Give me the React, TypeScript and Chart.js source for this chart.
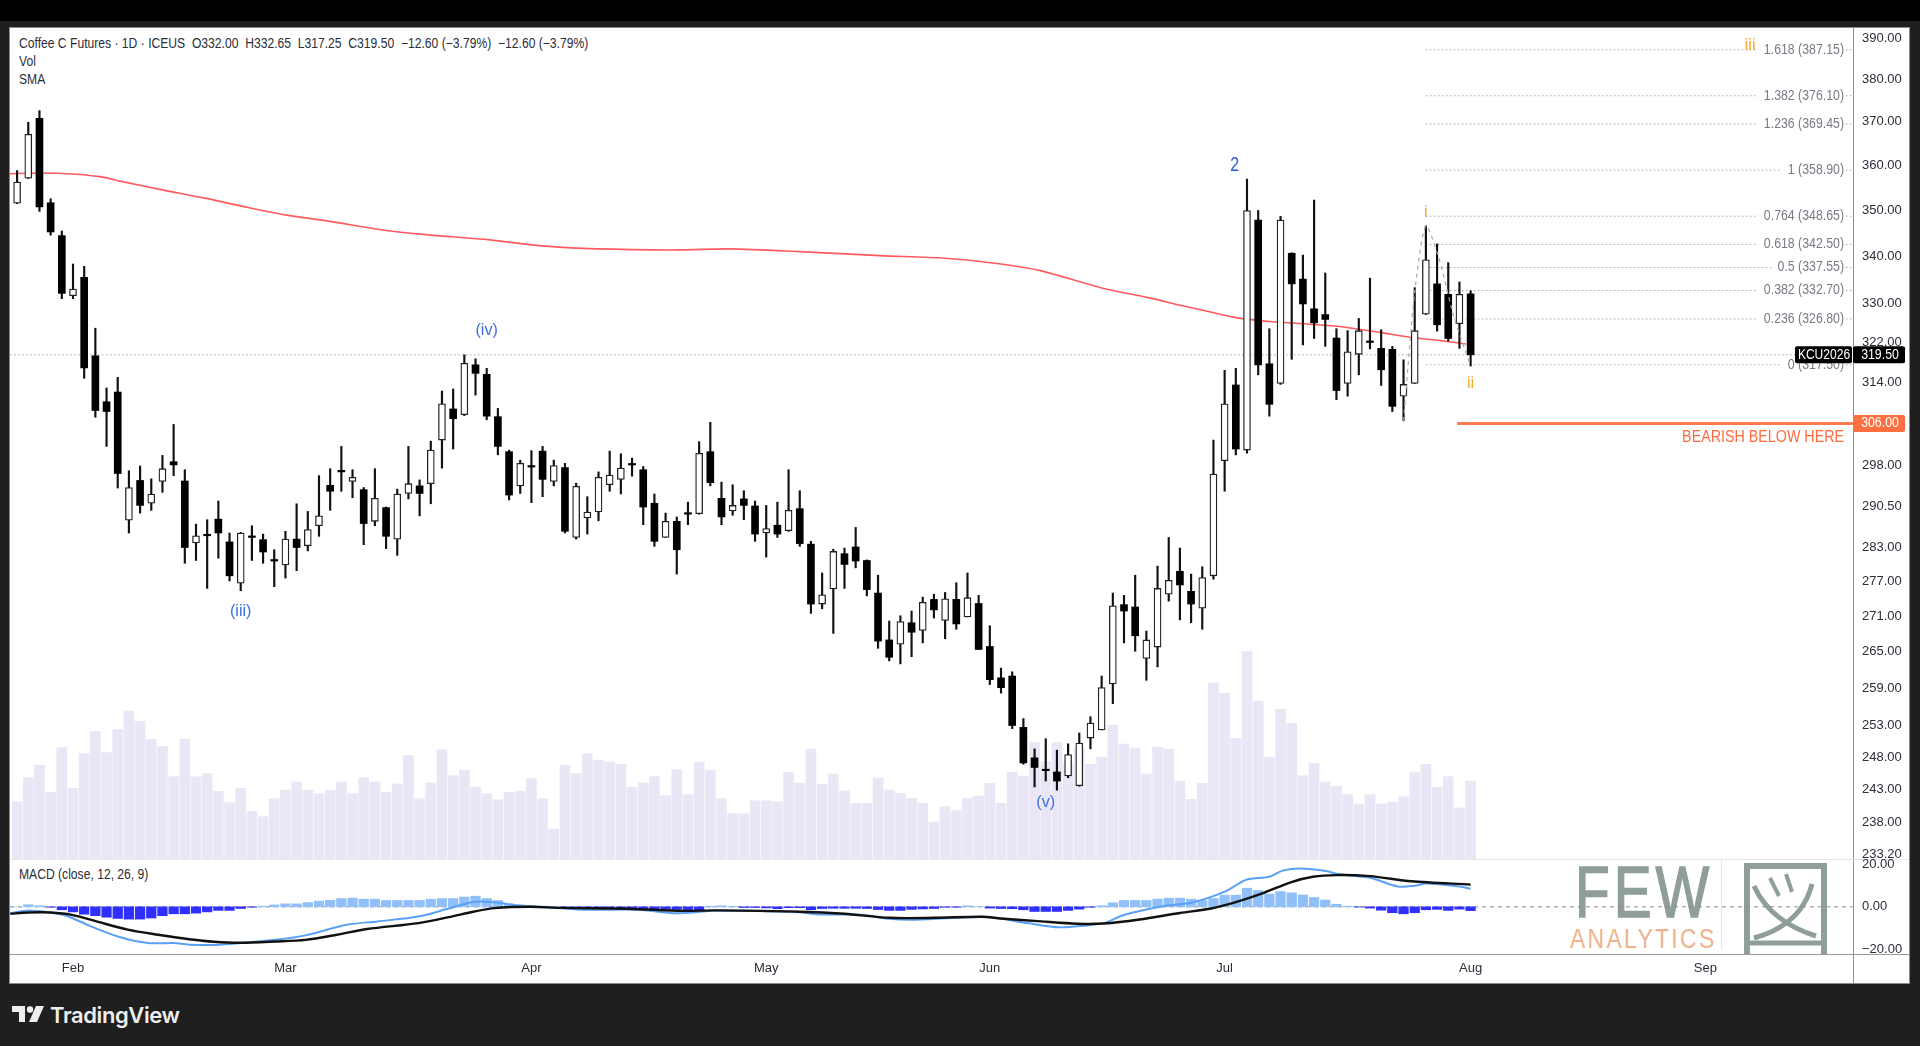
import React, { useEffect, useRef } from "react";
import { Chart, registerables } from "chart.js";

Chart.register(...registerables);

const FONT = '"Liberation Sans", sans-serif';

const opens = [351.5,357.1,370.8,351.6,344.4,331.6,335.5,319.3,310.2,312.1,287.9,295.2,291.0,295.0,298.7,295.1,283.8,285.3,288.1,284.0,276.7,284.9,284.4,280.7,279.9,284.5,283.3,286.9,294.3,296.9,295.0,293.5,287.7,290.2,284.5,292.8,294.2,294.6,302.8,308.8,307.7,317.5,315.6,307.3,300.6,294.2,297.9,300.7,295.0,297.6,284.8,288.3,289.4,294.4,295.4,298.2,297.2,291.0,284.8,287.7,289.1,289.1,300.6,291.9,289.6,291.8,290.5,285.6,287.0,286.0,290.0,283.6,273.1,275.7,281.9,283.1,280.7,275.0,267.0,266.3,269.9,268.6,273.9,270.3,273.9,270.9,273.2,265.9,260.7,261.0,252.7,247.9,246.0,245.7,245.1,243.6,251.0,252.3,259.7,273.0,272.6,263.9,265.8,274.8,278.8,275.3,272.4,278.0,298.9,313.5,300.9,347.8,317.7,313.8,340.6,335.1,328.9,327.7,322.9,313.8,319.6,322.1,320.8,320.6,311.3,313.8,327.8,334.1,331.9,325.8,332.0];
const highs = [358.8,369.9,372.6,352.5,345.4,338.3,337.8,324.9,312.9,315.0,297.0,297.9,295.5,299.9,305.8,297.2,287.2,288.0,291.4,285.6,285.7,286.9,285.4,282.6,285.9,290.9,289.5,296.1,297.4,301.6,297.2,293.9,297.4,290.3,293.6,301.6,295.3,302.6,312.3,312.7,319.5,318.7,316.8,308.9,300.9,299.0,300.8,301.6,299.0,298.4,294.7,292.2,296.8,300.7,300.2,299.4,297.8,292.7,289.2,288.5,291.2,302.5,306.2,294.9,294.4,293.3,291.4,290.6,291.2,297.2,293.3,284.1,278.5,282.7,282.9,286.6,280.8,278.1,270.2,271.1,271.9,274.3,274.8,275.1,276.8,278.5,274.6,269.4,262.3,261.7,254.1,249.3,250.9,249.1,250.1,251.8,254.4,261.0,275.0,274.6,278.1,268.5,279.7,284.8,282.9,278.3,279.6,302.8,316.4,316.8,356.9,349.9,324.8,348.6,340.7,340.2,352.2,336.4,324.8,324.4,326.9,335.3,324.6,321.2,318.5,333.3,346.5,342.6,338.6,334.5,332.65];
const lows = [351.4,357.0,349.7,344.5,331.0,331.0,314.8,307.2,301.6,293.8,285.6,289.2,289.7,293.0,296.1,280.2,280.7,275.8,281.1,277.1,275.4,280.7,280.2,276.1,277.6,278.9,282.4,285.0,289.7,293.2,292.0,283.5,286.9,282.8,281.6,291.8,288.7,290.9,297.5,301.1,307.5,311.5,306.7,300.0,291.6,292.8,291.1,292.2,294.2,285.6,284.5,285.4,287.8,293.2,292.7,296.0,287.1,283.2,284.8,278.3,287.1,289.0,294.2,287.1,288.8,288.0,284.1,281.3,284.8,285.9,283.2,271.5,272.3,268.1,275.8,279.4,274.5,265.6,263.5,263.0,264.2,266.5,270.7,267.2,268.8,270.9,265.4,259.6,258.2,252.5,246.9,243.4,244.3,242.9,244.8,243.5,249.3,252.3,256.5,266.5,265.1,260.3,262.5,273.6,270.4,269.9,268.8,277.4,293.2,300.0,300.3,315.5,307.4,313.6,318.6,321.5,322.8,321.2,310.6,311.3,315.5,320.7,313.4,308.3,306.5,313.8,327.7,324.3,322.3,320.8,317.25];
const closes = [356.2,367.1,350.7,345.2,332.1,333.0,316.9,308.5,308.3,296.5,293.9,290.6,292.7,297.4,298.1,283.0,285.1,285.1,285.6,278.0,285.6,284.8,282.2,280.6,284.5,283.0,286.2,288.7,293.2,296.8,295.8,287.3,291.9,285.0,292.7,294.6,292.8,300.9,309.8,306.9,317.8,315.8,307.4,301.6,292.5,298.4,297.7,295.4,298.0,285.9,294.1,289.4,295.8,296.2,297.5,298.1,290.3,284.1,287.7,282.6,289.0,300.3,294.8,288.5,290.6,290.6,285.4,286.4,285.4,289.7,283.7,273.1,274.7,282.3,280.0,280.6,275.6,266.8,264.1,270.1,268.3,273.4,272.1,274.0,269.7,274.2,265.4,260.4,259.1,253.0,247.1,246.4,245.9,244.3,248.4,250.2,253.4,259.1,272.8,271.9,267.7,267.0,275.8,277.2,276.4,273.1,277.7,296.4,309.8,301.1,349.9,317.5,309.7,347.8,334.1,329.9,326.0,326.7,312.4,320.1,324.4,322.0,316.5,309.3,313.6,324.4,339.2,325.6,322.8,331.9,319.5];

const volumes = [57.3,81.3,93.7,66.7,111.3,70.7,105.3,127.3,106.3,129.3,148,137.7,119.7,112.7,82.3,120,82.3,85.3,67.7,56.3,70.7,47.7,42.3,60.3,68.7,77,68.7,65.3,68.7,77,65.3,81.3,77,66.7,75,103.3,60.3,76,109.3,83.3,88.7,72,65.3,59.3,66.7,67.7,80.3,60.3,30,93.7,85.3,105.3,99,97,94.7,72,76,82.3,63.3,89.3,64.3,97,88.7,60.3,45.3,45.3,58.3,58.3,57.3,86.3,76,110,74.7,85,68,55.7,55.7,81,69,65.7,60.7,55.7,37,52.3,48.3,60.7,63,75.7,55.7,87,83,116.3,97.3,116.3,95.7,111,95,101.7,134,115,111,85,112,110,77.7,59.7,75.7,176,165.7,120.7,207.3,158,101.7,149.7,135.7,83.3,95.7,77,72.7,64.3,55,64.3,55,57,62.3,86.3,94.7,71.7,82.3,51,78];

const histogram = [0,1,0.5,-0.2,-1.4,-2.4,-3.5,-4.2,-4.9,-5.5,-5.8,-5.8,-5.3,-4.2,-3.3,-3.3,-3,-2.4,-1.7,-1.7,-0.8,-0.2,0.3,0.9,1.4,1.4,2,2.7,3.1,3.9,4.1,3.6,3.6,3,3,3,3,3.6,3.9,3.9,4.6,5,3.9,3,1.4,0.9,0.5,0.3,0.2,-0.2,-0.5,-0.5,-0.5,-0.5,-0.6,-0.6,-0.8,-0.9,-1,-1.2,-1.4,-1.5,0.3,0.5,0.2,-0.3,-0.3,-0.5,-0.9,-0.4,-0.4,-1.4,-0.8,-0.7,-0.7,-0.7,-0.8,-1.3,-1.7,-1.7,-1.2,-1,-0.8,-0.2,-0.2,0.5,0.1,-0.6,-0.8,-0.9,-1.4,-2.2,-2.2,-2.2,-1.7,-1.1,-0.2,0.5,1.9,3,3,3,3.6,4.1,4.1,3.6,3,3.9,5.5,5.5,8.8,7.7,6,7.2,6.6,5.6,4.4,3.2,1.2,0.3,-0.1,-0.6,-1.6,-2.8,-3.3,-2.8,-1.4,-1.2,-1.7,-1.1,-1.8];

const smaIdx = [-1,2,5,7.4,9.4,13,16.7,20.4,24,27.7,33,36.8,42.3,46,49.6,55,59.3,63.8,70,77.2,83,88,91.6,97,101.3,104,108.8,110,112,114.8,118.3,122,124.6,127.3,129.6];
const smaValues = [358.04,358.27,358.04,357.43,356.32,354.46,352.68,350.69,348.93,347.61,345.5,344.57,343.48,342.4,341.75,341.39,341.32,341.54,340.96,340.1,339.54,338.3,336.84,333.25,331.16,329.65,327.17,326.76,326.26,325.85,325.24,324.0,323.06,322.37,321.7];

const macdIdx = [-0.6,1,2.6,4.4,6.5,9,11.7,14,15.4,18.1,20,23.1,25.8,29.5,32.2,35.9,38.6,40.9,42.9,44.6,48.2,50.9,55.5,58.7,60.5,62.4,70,71.6,75.6,78,80.4,86.3,88,90.4,93.2,95.6,97.2,98.8,100.4,102.4,105.2,108,110,112,113.2,114.8,117.2,118,121,123.5,125,126,129,130];
const macdValues = [-3,-1.7,-2.4,-4.2,-9,-14,-17.1,-17.1,-17.9,-17.9,-17.1,-15.6,-13.5,-8.5,-6.9,-4.6,-0.8,2.4,2,0.8,-0.5,-1.4,-1.4,-3,-2.7,-1.7,-2.6,-3.6,-3.8,-5.7,-6.1,-4.7,-5.7,-7.7,-9.7,-8.8,-7.7,-4.2,-2,0.2,2.2,7.2,12.9,14.2,17.1,18.1,16.8,15.6,13.7,9.6,10,11,9.6,8.5];
const signalIdx = [-0.6,1,3,4.9,7.1,9.9,12.6,15.4,17.6,20,23.1,25.8,28.6,31.3,35.9,38.6,40.9,42.7,45.9,48.7,54.6,59.6,62.4,70,74,78,82,86.3,88,91.6,94.8,97.2,100.4,104,106.8,109,111.5,113.9,115.9,118,121,124.7,130];
const signalValues = [-3.3,-2.7,-2.7,-3.8,-6.9,-10.8,-13.2,-15.3,-16.5,-17,-16.4,-15.6,-13.2,-10.5,-7.7,-4.9,-2.2,-0.6,0,-0.5,-0.9,-1.9,-1.7,-2.3,-3.3,-5.2,-5.2,-4.7,-5.5,-6.9,-8,-7.9,-6,-2.9,-0.8,2.2,6.6,11.6,14.2,15,14.5,12.1,10.5];

const priceTicks = [390,380,370,360,350,340,330,322,314,306,298,290.5,283,277,271,265,259,253,248,243,238,233.2];
const macdTicks = [20,0,-20];
const monthIdx = [5,24,46,67,87,108,130,151];
const monthLabels = ["Feb","Mar","Apr","May","Jun","Jul","Aug","Sep"];

const fibLevels = [387.15,376.1,369.45,358.9,348.65,342.5,337.55,332.7,326.8,317.5];
const fibRatios = ["1.618","1.382","1.236","1","0.764","0.618","0.5","0.382","0.236","0"];
const waveTexts = ["2","(iii)","(iv)","(v)","i","ii","iii"];
const waveIdx = [108.9,20,42,92,126,130,155];
const wavePrices = [359.9,271.8,324.55,241.1,349.4,313.9,388.2];
const waveColors = ["#2a5bd7","#3f70e0","#3f70e0","#3f70e0","#f9a62b","#f9a62b","#f9a62b"];
const zigzagIdx = [124,125,126,127.2,128.5,130];
const zigzagPrices = [306.5,332.4,346.5,339.2,327.3,317.25];

const LAST_PRICE = 319.5;
const BEARISH_LEVEL = 306;
const SYMBOL = "KCU2026";
const X_MIN = -0.635;
const X_MAX = 164.2;
const FIB_START = 126;
const BEARISH_START = 128.8;

const ink = "#2a2e39";

function narrowText(ctx: any, text: string, x: number, y: number, sx: number) {
  ctx.save();
  ctx.translate(x, y);
  ctx.scale(sx, 1);
  ctx.fillText(text, 0, 0);
  ctx.restore();
}

const priceLabelsPlugin = {
  id: "priceLabels",
  afterDatasetsDraw(chart: any) {
    const { ctx, chartArea } = chart;
    const y = chart.scales.yPrice;
    const x = chart.scales.x;
    ctx.save();
    ctx.font = `14px ${FONT}`;
    ctx.textBaseline = "middle";
    ctx.textAlign = "right";
    fibLevels.forEach((level, i) => {
      const text = `${fibRatios[i]} (${level.toFixed(2)})`;
      const py = y.getPixelForValue(level);
      const w = ctx.measureText(text).width * 0.88;
      const rx = chartArea.right - 9;
      ctx.fillStyle = "#ffffff";
      ctx.fillRect(rx - w - 6, py - 6, w + 6, 12);
      ctx.fillStyle = "#787b86";
      narrowText(ctx, text, rx, py, 0.88);
    });
    ctx.textAlign = "center";
    waveTexts.forEach((t, i) => {
      ctx.font = `${t === "2" ? 20 : 17}px ${FONT}`;
      ctx.fillStyle = waveColors[i];
      narrowText(ctx, t, x.getPixelForValue(waveIdx[i]), y.getPixelForValue(wavePrices[i]), t === "2" ? 0.8 : 0.95);
    });
    ctx.textAlign = "right";
    ctx.font = `17px ${FONT}`;
    ctx.fillStyle = "#ff6b3d";
    narrowText(ctx, "BEARISH BELOW HERE", chartArea.right - 9, y.getPixelForValue(BEARISH_LEVEL) + 14, 0.84);
    ctx.restore();
  },
  afterDraw(chart: any) {
    const { ctx, chartArea } = chart;
    const y = chart.scales.yPrice;
    const py = y.getPixelForValue(LAST_PRICE);
    const by = y.getPixelForValue(BEARISH_LEVEL);
    const r = chartArea.right;
    ctx.save();
    ctx.font = `14px ${FONT}`;
    ctx.textBaseline = "middle";
    ctx.textAlign = "center";
    ctx.fillStyle = "#000000";
    ctx.beginPath();
    ctx.roundRect(r - 58, py - 8.5, 57, 17, 2);
    ctx.fill();
    ctx.beginPath();
    ctx.roundRect(r, py - 8.5, 52, 17, 2);
    ctx.fill();
    ctx.fillStyle = "#ffffff";
    narrowText(ctx, SYMBOL, r - 29, py, 0.86);
    narrowText(ctx, LAST_PRICE.toFixed(2), r + 27, py, 0.88);
    ctx.fillStyle = "#ff6f3f";
    ctx.beginPath();
    ctx.roundRect(r, by - 8.5, 52, 17, 2);
    ctx.fill();
    ctx.fillStyle = "#ffffff";
    narrowText(ctx, BEARISH_LEVEL.toFixed(2), r + 27, by, 0.88);
    ctx.restore();
  },
};

function flatFit(width?: number, height?: number) {
  return (s: any) => {
    if (width !== undefined) s.width = width;
    if (height !== undefined) s.height = height;
    s.paddingTop = 0;
    s.paddingBottom = 0;
    s.paddingLeft = 0;
    s.paddingRight = 0;
  };
}

function App() {
  const mainRef = useRef<HTMLCanvasElement>(null);
  const macdRef = useRef<HTMLCanvasElement>(null);

  useEffect(() => {
    const idx = opens.map((_, i) => i);
    const upIdx = idx.filter((i) => closes[i] >= opens[i]);
    const downIdx = idx.filter((i) => closes[i] < opens[i]);
    const tickFont = { family: FONT, size: 13 };

    const dotted = (level: number, from: number, order: number) => ({
      type: "line" as const,
      xAxisID: "x",
      yAxisID: "yPrice",
      data: [
        { x: from, y: level },
        { x: X_MAX, y: level },
      ],
      borderColor: "#a3a6af",
      borderWidth: 1,
      borderDash: [1.5, 2.5],
      pointRadius: 0,
      order,
    });

    const main = new Chart(mainRef.current as HTMLCanvasElement, {
      type: "bar",
      data: {
        datasets: [
          {
            type: "bar",
            xAxisID: "x",
            yAxisID: "yVol",
            data: idx.map((i) => ({ x: i, y: volumes[i] })),
            backgroundColor: "#ebe6f5",
            barThickness: 10,
            grouped: false,
            order: 10,
          },
          ...fibLevels.map((l) => dotted(l, FIB_START, 9)),
          dotted(LAST_PRICE, X_MIN, 9),
          {
            type: "line",
            xAxisID: "x",
            yAxisID: "yPrice",
            data: smaIdx.map((x, i) => ({ x, y: smaValues[i] })),
            borderColor: "#ff5a5f",
            borderWidth: 1.6,
            pointRadius: 0,
            tension: 0.3,
            order: 7,
          },
          {
            type: "bar",
            xAxisID: "x",
            yAxisID: "yPrice",
            data: idx.map((i) => ({ x: i, y: [lows[i], highs[i]] })),
            backgroundColor: "#111111",
            barThickness: 1.5,
            grouped: false,
            order: 5,
          },
          {
            type: "bar",
            xAxisID: "x",
            yAxisID: "yPrice",
            data: upIdx.map((i) => ({ x: i, y: [opens[i], closes[i]] })),
            backgroundColor: "#ffffff",
            borderColor: "#222222",
            borderWidth: 1.3,
            borderSkipped: false,
            barThickness: 7,
            grouped: false,
            order: 4,
          },
          {
            type: "bar",
            xAxisID: "x",
            yAxisID: "yPrice",
            data: downIdx.map((i) => ({ x: i, y: [closes[i], opens[i]] })),
            backgroundColor: "#000000",
            borderColor: "#000000",
            borderWidth: 0,
            borderSkipped: false,
            minBarLength: 1.5,
            barThickness: 7,
            grouped: false,
            order: 3,
          },
          {
            type: "line",
            xAxisID: "x",
            yAxisID: "yPrice",
            data: zigzagIdx.map((x, i) => ({ x, y: zigzagPrices[i] })),
            borderColor: "#a8a8a8",
            borderWidth: 1.2,
            borderDash: [4, 4],
            pointRadius: 0,
            tension: 0.25,
            order: 2,
          },
          {
            type: "line",
            xAxisID: "x",
            yAxisID: "yPrice",
            data: [
              { x: BEARISH_START, y: BEARISH_LEVEL },
              { x: X_MAX, y: BEARISH_LEVEL },
            ],
            borderColor: "#ff7a50",
            borderWidth: 3,
            pointRadius: 0,
            order: 1,
          },
        ] as any,
      },
      options: {
        responsive: false,
        maintainAspectRatio: false,
        animation: false,
        events: [],
        layout: { padding: 0 },
        plugins: { legend: { display: false }, tooltip: { enabled: false } },
        scales: {
          x: { type: "linear", min: X_MIN, max: X_MAX, offset: false, display: false },
          yVol: { type: "linear", min: 0, max: 831, display: false, position: "left" },
          yPrice: {
            type: "logarithmic",
            position: "right",
            min: 232.6,
            max: 392.5,
            beginAtZero: false,
            grid: { display: false, drawTicks: false },
            border: { display: false },
            afterBuildTicks: (s: any) => {
              s.ticks = priceTicks.map((value) => ({ value }));
            },
            afterFit: flatFit(56),
            ticks: {
              autoSkip: false,
              padding: 9,
              color: ink,
              font: tickFont,
              callback: (v: any) => Number(v).toFixed(2),
            },
          },
        } as any,
      },
      plugins: [priceLabelsPlugin],
    });

    const macd = new Chart(macdRef.current as HTMLCanvasElement, {
      type: "bar",
      data: {
        datasets: [
          {
            type: "line",
            xAxisID: "x",
            yAxisID: "y",
            data: [
              { x: X_MIN, y: 0 },
              { x: X_MAX, y: 0 },
            ],
            borderColor: "#8a8d96",
            borderWidth: 1,
            borderDash: [4, 4],
            pointRadius: 0,
            order: 5,
          },
          {
            type: "bar",
            xAxisID: "x",
            yAxisID: "y",
            data: idx.map((i) => ({ x: i, y: histogram[i] })),
            backgroundColor: histogram.map((v) => (v >= 0 ? "#90bff9" : "#2f2fff")),
            barThickness: 9.6,
            grouped: false,
            order: 4,
          },
          {
            type: "line",
            xAxisID: "x",
            yAxisID: "y",
            data: macdIdx.map((x, i) => ({ x, y: macdValues[i] })),
            borderColor: "#5aa0f5",
            borderWidth: 2,
            pointRadius: 0,
            tension: 0.3,
            order: 2,
          },
          {
            type: "line",
            xAxisID: "x",
            yAxisID: "y",
            data: signalIdx.map((x, i) => ({ x, y: signalValues[i] })),
            borderColor: "#111111",
            borderWidth: 2.4,
            pointRadius: 0,
            tension: 0.3,
            order: 1,
          },
        ] as any,
      },
      options: {
        responsive: false,
        maintainAspectRatio: false,
        animation: false,
        events: [],
        layout: { padding: 0 },
        plugins: { legend: { display: false }, tooltip: { enabled: false } },
        scales: {
          x: {
            type: "linear",
            min: X_MIN,
            max: X_MAX,
            offset: false,
            grid: { display: false, drawTicks: false },
            border: { display: false },
            afterBuildTicks: (s: any) => {
              s.ticks = monthIdx.map((value) => ({ value }));
            },
            afterFit: flatFit(undefined, 29),
            ticks: {
              autoSkip: false,
              maxRotation: 0,
              padding: 7,
              color: ink,
              font: tickFont,
              callback: (v: any) => monthLabels[monthIdx.indexOf(Number(v))],
            },
          },
          y: {
            type: "linear",
            position: "right",
            min: -22.3,
            max: 22.6,
            grid: { display: false, drawTicks: false },
            border: { display: false },
            afterBuildTicks: (s: any) => {
              s.ticks = macdTicks.map((value) => ({ value }));
            },
            afterFit: flatFit(56),
            ticks: {
              autoSkip: false,
              padding: 9,
              color: ink,
              font: tickFont,
              callback: (v: any) => (Number(v) < 0 ? "\u2212" : "") + Math.abs(Number(v)).toFixed(2),
            },
          },
        } as any,
      },
    });

    return () => {
      main.destroy();
      macd.destroy();
    };
  }, []);

  const abs = (left: number, top: number, width: number, height: number, background: string): React.CSSProperties => ({
    position: "absolute",
    left,
    top,
    width,
    height,
    background,
  });
  const legend: React.CSSProperties = {
    position: "absolute",
    left: 19,
    fontFamily: FONT,
    fontSize: 14,
    color: ink,
    whiteSpace: "pre",
    lineHeight: "16px",
    transformOrigin: "0 50%",
    transform: "scaleX(0.866)",
  };
  const frame = "#8f9e98";

  return (
    <div style={{ position: "fixed", left: 0, top: 0, width: 1920, height: 1046, overflow: "hidden", background: "#1f1f1f" }}>
      <div style={abs(0, 0, 1920, 21, "#000000")} />
      <div style={{ ...abs(10, 28, 1899, 955, "#ffffff"), outline: "1px solid #8a8a8a" }} />
      <div style={abs(1853, 28, 1, 955, "#8a8d96")} />
      <div style={abs(10, 859, 1899, 1, "#e6e6ea")} />
      <div style={abs(10, 954, 1899, 1, "#9a9a9a")} />

      {/* watermark */}
      <div style={{ position: "absolute", left: 1575, top: 852, height: 80, fontFamily: FONT, fontWeight: 400, fontSize: 72, lineHeight: "80px", letterSpacing: 5, color: frame, WebkitTextStroke: `1.5px ${frame}`, whiteSpace: "nowrap", transformOrigin: "0 50%", transform: "scaleX(0.79)" }}>FEW</div>
      <div style={{ position: "absolute", left: 1570, top: 924, fontFamily: FONT, fontSize: 27, lineHeight: "30px", letterSpacing: 2.7, color: "#f1b28e", whiteSpace: "nowrap", transformOrigin: "0 50%", transform: "scaleX(0.85)" }}>ANALYTICS</div>
      <div style={abs(1721, 859, 1, 91, "#e4e4e4")} />
      <svg style={{ position: "absolute", left: 1740, top: 860, width: 92, height: 94 }} viewBox="0 0 92 94" fill="none" stroke={frame}>
        <path d="M7 94V6h77v88" strokeWidth="6" />
        <path d="M7 83h77" strokeWidth="5" />
        <path d="M14 26C24 48 44 66 76 76" strokeWidth="5" />
        <path d="M72 24C66 48 50 68 14 78" strokeWidth="5" />
        <path d="M30 18l9 18M46 14l6 18" strokeWidth="4" />
      </svg>

      <div style={{ ...legend, top: 35 }}>{"Coffee C Futures \u00b7 1D \u00b7 ICEUS  O332.00  H332.65  L317.25  C319.50  \u221212.60 (\u22123.79%)  \u221212.60 (\u22123.79%)"}</div>
      <div style={{ ...legend, top: 53 }}>Vol</div>
      <div style={{ ...legend, top: 71 }}>SMA</div>
      <div style={{ ...legend, top: 866 }}>MACD (close, 12, 26, 9)</div>

      <canvas ref={mainRef} width={1899} height={831} style={{ position: "absolute", left: 10, top: 28, width: 1899, height: 831, filter: "blur(0.4px)" }} />
      <canvas ref={macdRef} width={1899} height={124} style={{ position: "absolute", left: 10, top: 859, width: 1899, height: 124, filter: "blur(0.4px)" }} />

      <svg style={{ position: "absolute", left: 12, top: 1006, width: 32, height: 18 }} viewBox="0 0 32 18" fill="#eeeeee">
        <path d="M0 0h13v16H7V6H0z" />
        <circle cx="18" cy="3.5" r="3.2" />
        <path d="M24 0h8l-7 16h-8z" />
      </svg>
      <div style={{ position: "absolute", left: 50, top: 1001, fontFamily: "Inter, sans-serif", fontWeight: 600, fontSize: 22, lineHeight: "28px", color: "#eeeeee", letterSpacing: -0.4 }}>TradingView</div>
    </div>
  );
}

export default App;
